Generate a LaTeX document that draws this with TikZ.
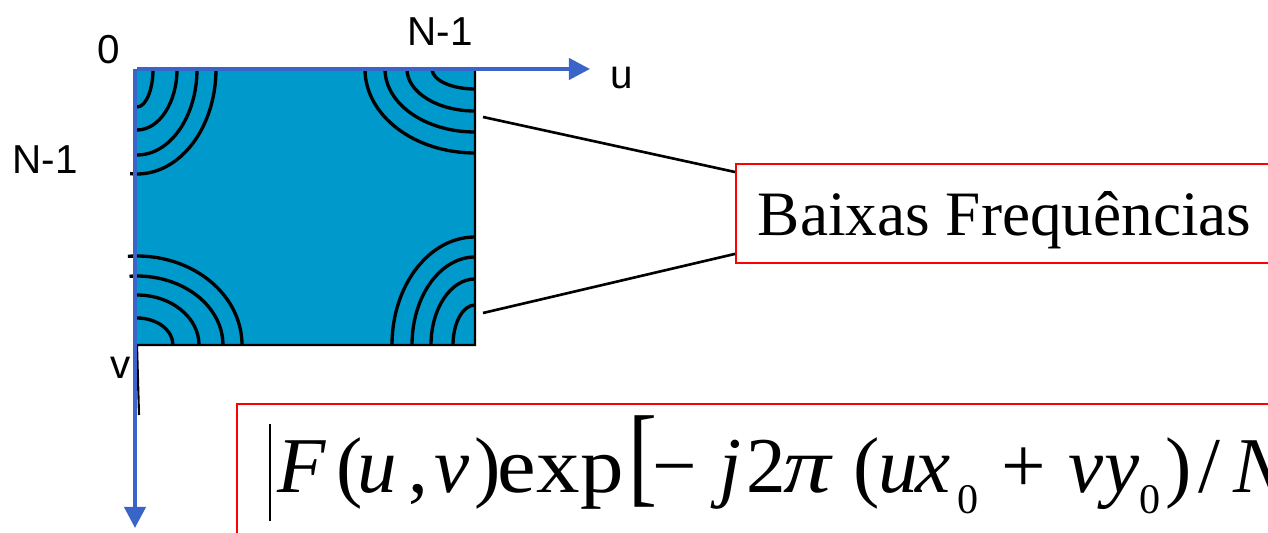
\documentclass[tikz,border=0pt]{standalone}
\usepackage{fontspec}
\usepackage{graphicx}
\setmainfont{Liberation Serif}
\setsansfont{Liberation Sans}
\usetikzlibrary{arrows.meta, calc}
\definecolor{specfill}{HTML}{0099CC}
\definecolor{axisblue}{HTML}{3A64C8}
\definecolor{boxred}{HTML}{FF0000}
\newlength\pxu
\setlength\pxu{0.02cm}
% one glyph group in a box of fixed width (in px)
\newcommand{\gpart}[2]{\makebox[#1\pxu][l]{#2}}
\newcommand{\lowzero}{\raisebox{-21\pxu}{\fontsize{24}{24}\selectfont 0}}

\begin{document}
\begin{tikzpicture}[x=0.02cm, y=-0.02cm,
  axis/.style={draw=axisblue, line width=2.3pt, -{Triangle[length=12pt, width=12pt]}},
  ring/.style={draw=black, line width=1.9pt},
  lead/.style={draw=black, line width=1.5pt},
  edge/.style={draw=black, line width=1.2pt},
  ticklab/.style={font=\sffamily\fontsize{23}{23}\selectfont, inner sep=0pt},
  redbox/.style={draw=boxred, line width=1.1pt, rectangle, inner ysep=0pt, anchor=north west},
]
\clip (0,0) rectangle (1268,533);
% ---- spectrum square with corners
\coordinate (tl) at (137,69);
\coordinate (tr) at (475,69);
\coordinate (bl) at (137,345);
\coordinate (br) at (475,345);
\fill[specfill] (tl) rectangle (br);
\draw[edge] (tr) -- (br) -- (bl) -- (139,415);
% ---- low-frequency rings in the four corners
\foreach \rx/\ry/\ea in {16/38/90, 40/61/90, 60/86/90, 79/105/95}
  \draw[ring] (tl) ++(\rx,0) arc[start angle=0, end angle=\ea, x radius=\rx, y radius=\ry];
\foreach \rx/\ry in {43/20, 68/42, 90/63, 110/84}
  \draw[ring] (tr) ++(0,\ry) arc[start angle=90, end angle=180, x radius=\rx, y radius=\ry];
\foreach \rx/\ry/\sa in {36/27/270, 62/50/270, 86/69/265, 105/89/265}
  \draw[ring] (bl) ++(\sa:{\rx} and {\ry}) arc[start angle=\sa, end angle=360, x radius=\rx, y radius=\ry];
\foreach \rx/\ry in {22/40, 44/66, 63/88, 83/108}
  \draw[ring] (br) ++(-\rx,0) arc[start angle=180, end angle=270, x radius=\rx, y radius=\ry];
% ---- axes
\coordinate (uend) at (590,69);
\coordinate (vtop) at (135,69);
\coordinate (vend) at (135,528);
\draw[axis] (tl) -- (uend);
\draw[axis] (vtop) -- (vend);
\node[ticklab] (zero) at (109,50) {0};
\node[ticklab] (ntop) at (440,32) {N-1};
\node[ticklab] (nleft) at (45,160) {N-1};
\node[ticklab] (ulab) at (622,78) {u};
\node[ticklab] (vlab) at (121,368) {v};
% ---- label box and leader lines
\node[redbox, inner xsep=0.44cm, text height=1.44cm, text depth=0.54cm,
  font=\fontsize{36}{36}\selectfont] (lowfreq) at (735,163) {Baixas Frequências};
\coordinate (upR) at (483,117);
\coordinate (dnR) at (483,313);
\draw[lead] (upR) -- ($(lowfreq.north west)+(0,9)$);
\draw[lead] (dnR) -- ($(lowfreq.south west)+(0,-10)$);
% ---- shifted spectrum formula
\node[redbox, inner xsep=0.64cm, text height=1.78cm, text depth=3cm,
  font=\fontsize{45}{45}\selectfont] (shift) at (236,403)
  {\gpart{9}{\rule[-28\pxu]{2\pxu}{97\pxu}}\gpart{59}{\textit{F}}\gpart{21}{(}\gpart{51}{\textit{u}}\gpart{26}{,}\gpart{40}{\textit{v}}\gpart{23}{)}%
   \gpart{131}{\scalebox{1.1}[1]{exp}}\gpart{24}{\scalebox{1.1}[1.4]{[}}\gpart{67}{−}\gpart{27}{\textit{j}}\gpart{37}{2}\gpart{70}{\scalebox{1.2}[1]{\textit{π}}}\gpart{25}{(}%
   \gpart{36}{\textit{u}}\gpart{43}{\textit{x}}\gpart{44}{\lowzero}\gpart{67}{+}\gpart{36}{\textit{v}}\gpart{35}{\textit{y}}\gpart{26}{\lowzero}\gpart{33}{)}\gpart{35}{/}\textit{N}};
\end{tikzpicture}
\end{document}
